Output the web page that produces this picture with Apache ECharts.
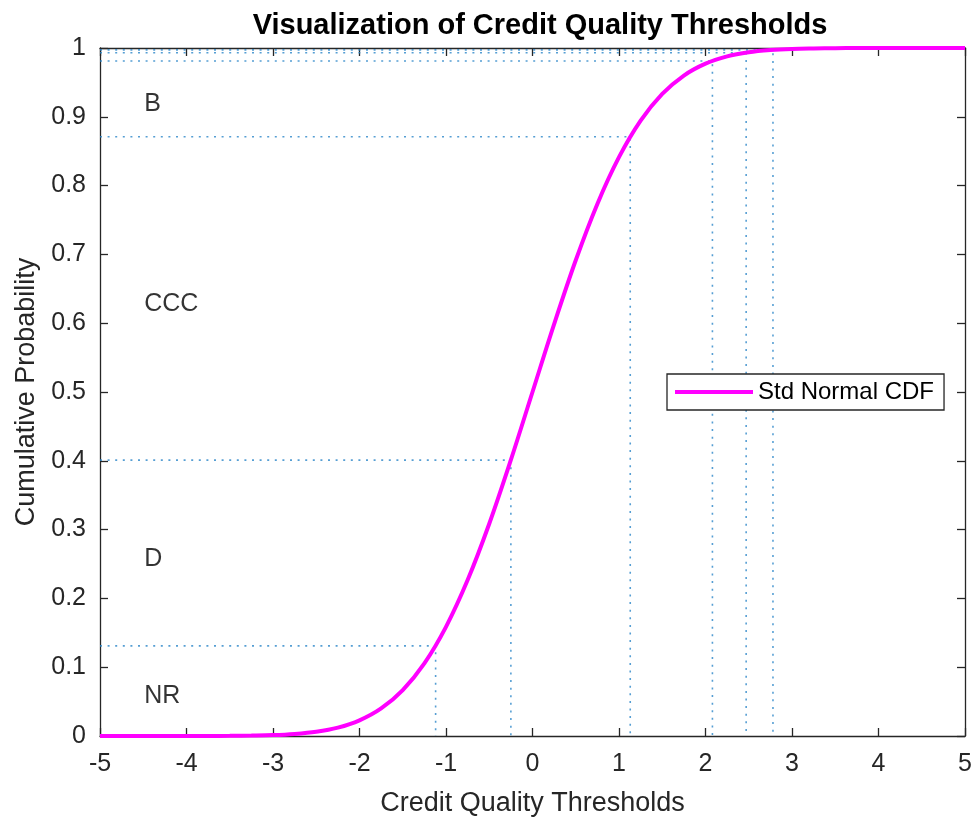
<!DOCTYPE html>
<html>
<head>
<meta charset="utf-8">
<script src="https://cdn.jsdelivr.net/npm/echarts@6/dist/echarts.min.js"></script>
<style>
html,body{margin:0;padding:0;background:#fff;}
#chart{width:976px;height:818px;}
</style>
</head>
<body>
<div id="chart"></div>
<script>
// Standard normal CDF curve, read at 0.25 steps
const cdfX = [-5,-4.75,-4.5,-4.25,-4,-3.75,-3.5,-3.25,-3,-2.75,-2.5,-2.25,-2,-1.75,-1.5,-1.25,-1,-0.75,-0.5,-0.25,0,
  0.25,0.5,0.75,1,1.25,1.5,1.75,2,2.25,2.5,2.75,3,3.25,3.5,3.75,4,4.25,4.5,4.75,5];
const cdfY = [0,0,0,0,0,0.0001,0.0002,0.0006,0.0013,0.003,0.0062,0.0122,0.0228,0.0401,0.0668,0.1056,0.1587,0.2266,0.3085,0.4013,0.5,
  0.5987,0.6915,0.7734,0.8413,0.8944,0.9332,0.9599,0.9772,0.9878,0.9938,0.997,0.9987,0.9994,0.9998,0.9999,1,1,1,1,1];

// Credit quality thresholds and their cumulative probabilities
const thresholdX = [-1.12, -0.25, 1.13, 2.08, 2.47, 2.78];
const thresholdP = [0.131, 0.401, 0.871, 0.981, 0.9932, 0.9973];

// Rating labels
const ratingNames = ['NR', 'D', 'CCC', 'B'];
const ratingY = [0.065, 0.265, 0.635, 0.925];
const ratingX = -4.5;

const xTicks = [-5,-4,-3,-2,-1,0,1,2,3,4,5];
const yTicks = [0,0.1,0.2,0.3,0.4,0.5,0.6,0.7,0.8,0.9,1];

const FONT = '"Liberation Sans", Arial, Helvetica, sans-serif';
const AX = '#262626';

const chart = echarts.init(document.getElementById('chart'), null, {renderer: 'canvas'});

const series = [];
thresholdX.forEach((t, i) => {
  series.push({
    type: 'line',
    name: 'thr' + i,
    data: [[-5, thresholdP[i]], [t, thresholdP[i]], [t, 0]],
    symbol: 'none',
    silent: true,
    lineStyle: {color: '#2a86c8', width: 1.6, type: [2, 5.6], opacity: 0.8},
    z: 2
  });
});
series.push({
  type: 'line',
  name: 'Std Normal CDF',
  data: cdfX.map((x, i) => [x, cdfY[i]]),
  symbol: 'none',
  smooth: 0.35,
  lineStyle: {color: '#FF00FF', width: 4},
  itemStyle: {color: '#FF00FF'},
  z: 3
});
series.push({
  type: 'scatter',
  name: 'labels',
  data: ratingNames.map((n, i) => ({value: [ratingX, ratingY[i]], name: n})),
  symbolSize: 0,
  silent: true,
  label: {
    show: true,
    position: [0, 0],
    offset: [1, 5],
    align: 'left',
    verticalAlign: 'middle',
    formatter: p => p.name,
    color: '#000',
    fontSize: 25,
    fontFamily: FONT
  },
  z: 4
});

const tickAxisBase = {
  axisLine: {show: true, onZero: false, lineStyle: {color: AX, width: 1.3}},
  axisTick: {show: true, inside: true, length: 8, lineStyle: {color: AX, width: 1.3}},
  splitLine: {show: false}
};

chart.setOption({
  backgroundColor: '#fff',
  animation: false,
  title: {
    text: 'Visualization of Credit Quality Thresholds',
    left: 535,
    textAlign: 'center',
    top: 6,
    textStyle: {fontSize: 29, fontWeight: 'bold', color: '#000', fontFamily: FONT}
  },
  legend: {
    data: [{name: 'Std Normal CDF', icon: 'rect'}],
    left: 667,
    top: 374,
    orient: 'horizontal',
    itemWidth: 78,
    itemHeight: 4,
    itemGap: 5,
    padding: [6, 10, 6, 8],
    borderColor: '#262626',
    borderWidth: 1.3,
    backgroundColor: '#fff',
    textStyle: {fontSize: 24, color: '#000', fontFamily: FONT, lineHeight: 24}
  },
  grid: {left: 100, right: 11, top: 48, bottom: 82, containLabel: false, outerBoundsMode: 'none'},
  xAxis: [
    Object.assign({
      type: 'value', min: -5, max: 5, interval: 1, position: 'bottom',
      name: 'Credit Quality Thresholds', nameLocation: 'middle', nameGap: 54,
      nameTextStyle: {fontSize: 27, color: AX, fontFamily: FONT},
      axisLabel: {show: true, fontSize: 25, color: AX, fontFamily: FONT, margin: 16,
        formatter: v => xTicks.includes(v) ? String(v) : ''}
    }, tickAxisBase),
    Object.assign({
      type: 'value', min: -5, max: 5, interval: 1, position: 'top',
      axisLabel: {show: false}
    }, tickAxisBase)
  ],
  yAxis: [
    Object.assign({
      type: 'value', min: 0, max: 1, interval: 0.1, position: 'left',
      name: 'Cumulative Probability', nameLocation: 'middle', nameGap: 58,
      nameTextStyle: {fontSize: 27, color: AX, fontFamily: FONT},
      axisLabel: {show: true, fontSize: 25, color: AX, fontFamily: FONT, margin: 14,
        padding: [6, 0, 0, 0],
        formatter: v => { const r = Math.round(v * 10) / 10; return yTicks.includes(r) ? String(r) : ''; }}
    }, tickAxisBase),
    Object.assign({
      type: 'value', min: 0, max: 1, interval: 0.1, position: 'right',
      axisLabel: {show: false}
    }, tickAxisBase)
  ],
  series: series
});
</script>
</body>
</html>
